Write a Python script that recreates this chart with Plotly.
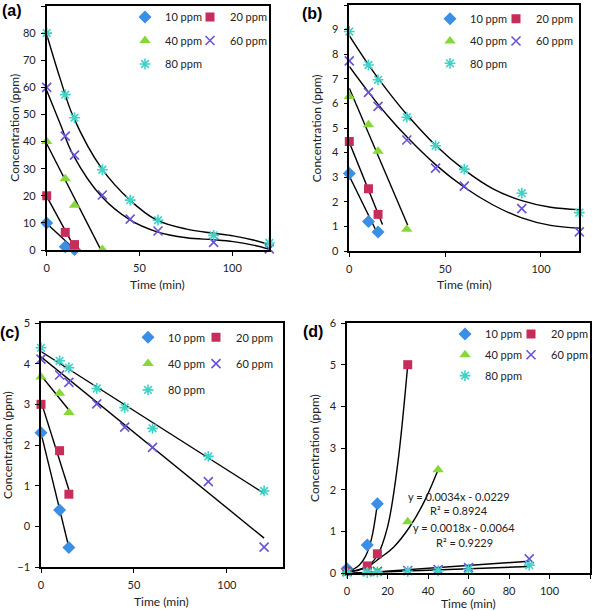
import plotly.graph_objects as go

W, H = 600, 611

# ---------------- data ----------------
names = ["10 ppm", "20 ppm", "40 ppm", "60 ppm", "80 ppm"]

# Panel (a)
a_10_x = [0, 10, 15];                         a_10_y = [10, 1.2, 0.2]
a_20_x = [0, 10, 15];                         a_20_y = [20, 6.5, 2.0]
a_40_x = [0, 10, 15, 30];                     a_40_y = [40, 26.3, 16.5, 0.2]
a_60_x = [0, 10, 15, 30, 45, 60, 90, 120];    a_60_y = [60, 42, 35, 20.3, 11.4, 7.0, 2.8, 0.4]
a_80_x = [0, 10, 15, 30, 45, 60, 90, 120];    a_80_y = [80, 57.3, 48.8, 29.6, 18.4, 11.0, 5.4, 2.6]
fa_10_x = [0, 15];   fa_10_y = [9.8, 0.3]
fa_20_x = [0, 15];   fa_20_y = [19.8, 0.9]
fa_40_x = [0, 29];   fa_40_y = [39.2, 0.3]
fa_60_x = [0, 7.2, 14.3, 29.6, 44.9, 59.1, 75.4, 89.8, 100.5, 111.3, 120]
fa_60_y = [58.8, 46.7, 35.0, 19.7, 11.1, 6.8, 4.5, 3.8, 3.1, 1.8, 0.3]
fa_80_x = [0, 7.2, 14.3, 29.6, 44.9, 59.1, 75.4, 89.8, 100.5, 111.3, 120]
fa_80_y = [79.5, 63.3, 49.2, 30.1, 18.4, 11.1, 7.7, 6.2, 5.2, 3.7, 2.0]

# Panel (b)
b_10_x = [0, 10, 15];                         b_10_y = [3.15, 1.2, 0.77]
b_20_x = [0, 10, 15];                         b_20_y = [4.45, 2.53, 1.49]
b_40_x = [0, 10, 15, 30];                     b_40_y = [6.28, 5.13, 4.05, 0.88]
b_60_x = [0, 10, 15, 30, 45, 60, 90, 120];    b_60_y = [7.73, 6.45, 5.88, 4.51, 3.37, 2.64, 1.72, 0.78]
b_80_x = [0, 10, 15, 30, 45, 60, 90, 120];    b_80_y = [8.92, 7.56, 6.96, 5.44, 4.28, 3.33, 2.35, 1.56]
fb_10_x = [0, 15.4]; fb_10_y = [3.05, 0.6]
fb_20_x = [0, 17.3]; fb_20_y = [4.42, 1.08]
fb_40_x = [0, 30.5]; fb_40_y = [6.62, 1.05]
fb_60_x = [0, 10, 20, 30, 45, 60, 75, 90, 105, 120]
fb_60_y = [7.5, 6.46, 5.50, 4.64, 3.51, 2.59, 1.87, 1.35, 1.04, 0.93]
fb_80_x = [0, 10, 20, 30, 45, 60, 75, 90, 105, 120]
fb_80_y = [8.75, 7.57, 6.51, 5.55, 4.30, 3.30, 2.53, 2.05, 1.78, 1.68]

# Panel (c)
c_10_x = [0, 10, 15];                         c_10_y = [2.3, 0.4, -0.52]
c_20_x = [0, 10, 15];                         c_20_y = [3.0, 1.86, 0.79]
c_40_x = [0, 10, 15];                         c_40_y = [3.67, 3.27, 2.8]
c_60_x = [0, 10, 15, 30, 45, 60, 90, 120];    c_60_y = [4.11, 3.72, 3.54, 3.01, 2.44, 1.94, 1.1, -0.51]
c_80_x = [0, 10, 15, 30, 45, 60, 90, 120];    c_80_y = [4.39, 4.07, 3.9, 3.39, 2.92, 2.41, 1.72, 0.87]
fc_10_x = [0, 15];   fc_10_y = [2.3, -0.52]
fc_20_x = [0, 15];   fc_20_y = [3.07, 0.9]
fc_40_x = [0, 15];   fc_40_y = [3.71, 2.86]
fc_60_x = [0, 120];  fc_60_y = [4.17, -0.29]
fc_80_x = [0, 120];  fc_80_y = [4.3, 0.81]

# Panel (d)
d_10_x = [0, 10, 15];                         d_10_y = [0.1, 0.67, 1.66]
d_20_x = [0, 10, 15, 30];                     d_20_y = [0.04, 0.17, 0.46, 5.0]
d_40_x = [0, 10, 15, 30, 45];                 d_40_y = [0.02, 0.03, 0.03, 1.23, 2.48]
d_60_x = [0, 10, 15, 30, 45, 60, 90];         d_60_y = [0.03, 0.03, 0.04, 0.06, 0.08, 0.13, 0.34]
d_80_x = [0, 10, 15, 30, 45, 60, 90];         d_80_y = [0.01, 0.01, 0.02, 0.04, 0.05, 0.09, 0.19]
fd_10_x = [0, 3, 6, 9, 12, 15];               fd_10_y = [0.043, 0.089, 0.186, 0.386, 0.80, 1.66]
fd_20_x = [0, 5, 10, 15, 20, 25, 30];         fd_20_y = [0.03, 0.07, 0.16, 0.42, 1.1, 2.6, 5.0]
fd_40_x = [0, 5, 10, 16, 23, 31, 38, 45];     fd_40_y = [0.03, 0.06, 0.14, 0.35, 0.62, 1.11, 1.7, 2.48]
fd_60_x = [0, 90];   fd_60_y = [-0.0229, 0.2831]
fd_80_x = [0, 90];   fd_80_y = [-0.0064, 0.1556]

eq_texts = ["y = 0.0034x - 0.0229", "R\u00b2 = 0.8924", "y = 0.0018x - 0.0064", "R\u00b2 = 0.9229"]

# ---------------- styles ----------------
colors = ["#3A8EE6", "#C62D5B", "#86D837", "#6B52D9", "#3FD2C7"]
symbols = ["diamond", "square", "triangle-up", "x-thin-open", "asterisk-open"]
sizes = [10, 9, 10, 9, 9]
FONT = "Lato"

panels = {
    "a": dict(ax="", data=[(a_10_x, a_10_y), (a_20_x, a_20_y), (a_40_x, a_40_y), (a_60_x, a_60_y), (a_80_x, a_80_y)],
              fits=[(fa_10_x, fa_10_y, "linear"), (fa_20_x, fa_20_y, "linear"), (fa_40_x, fa_40_y, "linear"),
                    (fa_60_x, fa_60_y, "spline"), (fa_80_x, fa_80_y, "spline")]),
    "b": dict(ax="2", data=[(b_10_x, b_10_y), (b_20_x, b_20_y), (b_40_x, b_40_y), (b_60_x, b_60_y), (b_80_x, b_80_y)],
              fits=[(fb_10_x, fb_10_y, "linear"), (fb_20_x, fb_20_y, "linear"), (fb_40_x, fb_40_y, "linear"),
                    (fb_60_x, fb_60_y, "spline"), (fb_80_x, fb_80_y, "spline")]),
    "c": dict(ax="3", data=[(c_10_x, c_10_y), (c_20_x, c_20_y), (c_40_x, c_40_y), (c_60_x, c_60_y), (c_80_x, c_80_y)],
              fits=[(fc_10_x, fc_10_y, "linear"), (fc_20_x, fc_20_y, "linear"), (fc_40_x, fc_40_y, "linear"),
                    (fc_60_x, fc_60_y, "linear"), (fc_80_x, fc_80_y, "linear")]),
    "d": dict(ax="4", data=[(d_10_x, d_10_y), (d_20_x, d_20_y), (d_40_x, d_40_y), (d_60_x, d_60_y), (d_80_x, d_80_y)],
              fits=[(fd_10_x, fd_10_y, "spline"), (fd_20_x, fd_20_y, "spline"), (fd_40_x, fd_40_y, "spline"),
                    (fd_60_x, fd_60_y, "linear"), (fd_80_x, fd_80_y, "linear")]),
}

# plot-area pixel boxes (left, top, right, bottom)
boxes = {"a": (46.7, 6, 269.3, 250), "b": (349.3, 5, 579.3, 251),
         "c": (41, 323, 282.7, 567), "d": (347, 323, 590, 573)}
ranges = {"a": ([0, 120], [0, 90], [0, 50, 100], list(range(0, 91, 10))),
          "b": ([0, 120], [0, 10], [0, 50, 100], list(range(0, 11))),
          "c": ([0, 130], [-1, 5], [0, 50, 100], list(range(-1, 6))),
          "d": ([0, 120], [0, 6], list(range(0, 121, 20)), list(range(0, 7)))}
# legend layout: text x of column 1, column 2, first-row center, row spacing
leg_pos = {"a": (165, 230, 17, 23.5), "b": (470, 536, 18.7, 22.3),
           "c": (168, 236, 337.3, 26.3), "d": (485, 551, 334, 20.8)}
columns = [[0, 2, 4], [1, 3]]
xtitle_y = {"a": 285, "b": 285, "c": 601, "d": 603}
label_pos = {"a": (12, 11), "b": (312, 13), "c": (10, 332), "d": (313, 331)}

fig = go.Figure()
layout = dict(width=W, height=H, margin=dict(l=0, r=0, t=0, b=0), template="none",
              paper_bgcolor="white", plot_bgcolor="white", showlegend=True,
              font=dict(family=FONT, size=11, color="#222"))
annotations = []
legend_counter = 0

for key, p in panels.items():
    ax = p["ax"]
    xa, ya = "x" + ax, "y" + ax
    l, t, r, b = boxes[key]
    xr, yr, xt, yt = ranges[key]
    common = dict(showline=True, linecolor="black", linewidth=1.5, mirror=True, ticks="outside",
                  ticklen=4, tickcolor="black", tickwidth=1, showgrid=False, zeroline=False,
                  automargin=False, tickfont=dict(family=FONT, size=11, color="#222"))
    layout["xaxis" + ax] = dict(common, domain=[l / W, r / W], range=xr, tickvals=xt, anchor=ya,
                                ticklabelstandoff=3)
    layout["yaxis" + ax] = dict(common, domain=[1 - b / H, 1 - t / H], range=yr, tickvals=yt, anchor=xa,
                                ticklabelstandoff=3)

    # column legends
    tx1, tx2, ry0, dy = leg_pos[key]
    col_legend = []
    for ci, tx in enumerate([tx1, tx2]):
        legend_counter += 1
        lname = "legend" if legend_counter == 1 else f"legend{legend_counter}"
        layout[lname] = dict(x=(tx - 40) / W, xanchor="left", y=1 - (ry0 - 14.5) / H, yanchor="top",
                             orientation="v", tracegroupgap=dy - 19,
                             bgcolor="rgba(0,0,0,0)", borderwidth=0, itemwidth=30,
                             font=dict(family=FONT, size=11, color="#222"))
        col_legend.append(lname)

    for i, (fx, fy, shape) in enumerate(p["fits"]):
        fig.add_trace(go.Scatter(x=fx, y=fy, mode="lines", xaxis=xa, yaxis=ya, showlegend=False,
                                 line=dict(color="black", width=1.4, shape=shape), hoverinfo="skip"))
    for i, (dx, dy_) in enumerate(p["data"]):
        lname = col_legend[0] if i in columns[0] else col_legend[1]
        fig.add_trace(go.Scatter(x=dx, y=dy_, mode="markers", name=names[i], xaxis=xa, yaxis=ya,
                                 legend=lname, legendgroup=f"{key}{i}", cliponaxis=False,
                                 marker=dict(symbol=symbols[i], size=sizes[i], color=colors[i],
                                             line=dict(color=colors[i], width=1.6 if i >= 3 else 0))))

    # axis titles + panel labels
    annotations.append(dict(text="Time (min)", xref="paper", yref="paper", x=(l + r) / 2 / W,
                            y=1 - xtitle_y[key] / H, showarrow=False, xanchor="center", yanchor="middle",
                            font=dict(family=FONT, size=12, color="#222")))
    annotations.append(dict(text="Concentration (ppm)", xref="paper", yref="paper", x=(l - 33) / W,
                            y=1 - (t + b) / 2 / H, showarrow=False, textangle=-90, xanchor="center",
                            yanchor="middle", font=dict(family=FONT, size=12, color="#222")))
    lx, ly = label_pos[key]
    annotations.append(dict(text=f"<b>({key})</b>", xref="paper", yref="paper", x=lx / W,
                            y=1 - ly / H, showarrow=False, xanchor="center", yanchor="middle",
                            font=dict(family="Liberation Sans", size=16, color="black")))

eq_pos = [(458.6, 496), (458.6, 510.5), (464, 527.7), (464, 542.5)]
for txt, (px, py) in zip(eq_texts, eq_pos):
    annotations.append(dict(text=txt, xref="paper", yref="paper", x=px / W, y=1 - py / H, showarrow=False,
                            xanchor="center", yanchor="middle", font=dict(family=FONT, size=11, color="#222")))

layout["annotations"] = annotations
fig.update_layout(**layout)
fig.write_html("out.html", config={"displayModeBar": False},
               post_script="document.body.style.margin='0';document.body.style.overflow='hidden';")
